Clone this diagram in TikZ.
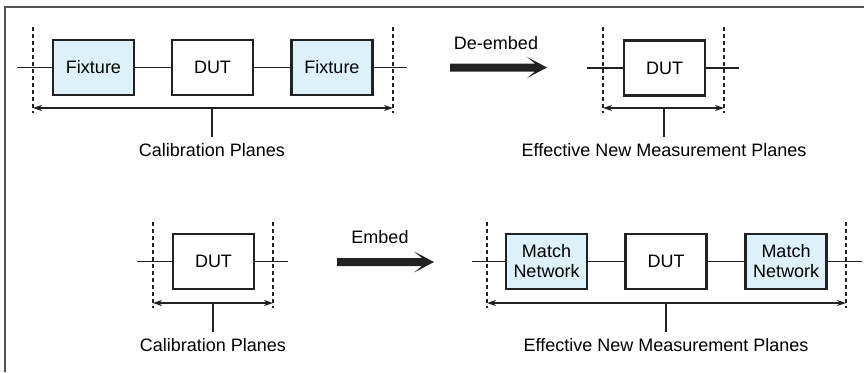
\documentclass[tikz,border=0pt]{standalone}
\usepackage{fontspec}
\setmainfont{Liberation Sans}
\usetikzlibrary{arrows.meta}
\definecolor{boxblue}{HTML}{DDF1F9}
\definecolor{ink}{HTML}{222222}
\definecolor{framegray}{HTML}{555555}
\begin{document}
\begin{tikzpicture}[x=1pt,y=-1pt,
  blk/.style={draw=ink,line width=2.4pt,minimum width=81pt,minimum height=55pt,inner sep=0pt,font=\fontsize{18}{20}\selectfont,align=center},
  fix/.style={blk,fill=boxblue},
  lead/.style={draw=ink,line width=1.1pt},
  plane/.style={draw=ink,line width=1.1pt,dash pattern=on 4pt off 3pt},
  span/.style={draw=ink,line width=1.1pt,{Stealth[length=9pt,width=6pt]}-{Stealth[length=9pt,width=6pt]}},
  lbl/.style={font=\fontsize{18}{20}\selectfont,inner sep=0pt},
  bigarrow/.style={fill=ink,draw=none}]
\useasboundingbox (0,0) rectangle (864,372);
\fill[white] (0,0) rectangle (864,372);
% frame
\draw[framegray,line width=2pt] (4.5,372) -- (4.5,6.5) -- (864,6.5);

% ---------- top left ----------
\node[fix] (f1) at (93.5,67.5) {Fixture};
\node[blk] (d1) at (212.5,67.5) {DUT};
\node[fix] (f2) at (332,67.5) {Fixture};
\coordinate (l1) at (17,67.5);
\coordinate (r1) at (407,67.5);
\draw[lead] (l1) -- (f1.west);
\draw[lead] (f1.east) -- (d1.west);
\draw[lead] (d1.east) -- (f2.west);
\draw[lead] (f2.east) -- (r1);
\coordinate (p1t) at (33,27); \coordinate (p1b) at (33,113);
\coordinate (p2t) at (393,27); \coordinate (p2b) at (393,113);
\draw[plane] (p1t) -- (p1b);
\draw[plane] (p2t) -- (p2b);
\coordinate (a1l) at (33,108); \coordinate (a1r) at (393,108);
\draw[span] (a1l) -- (a1r);
\coordinate (s1t) at (212,108);
\node[lbl] (c1) at (212,150) {Calibration Planes};
\draw[lead] (s1t) -- (212,137);

% ---------- de-embed arrow ----------
\node[lbl] (de) at (496,43) {De-embed};
\fill[bigarrow] (450,63.5) -- (535,63.5) -- (527,57) -- (547,67.5) -- (527,78) -- (535,71.5) -- (450,71.5) -- cycle;

% ---------- top right ----------
\node[blk] (d2) at (664.5,68) {DUT};
\coordinate (l2) at (587,68);
\coordinate (r2) at (739,68);
\draw[lead] (l2) -- (d2.west);
\draw[lead] (d2.east) -- (r2);
\coordinate (q1t) at (603,27); \coordinate (q1b) at (603,113);
\coordinate (q2t) at (724,27); \coordinate (q2b) at (724,113);
\draw[plane] (q1t) -- (q1b);
\draw[plane] (q2t) -- (q2b);
\coordinate (a2l) at (603,108); \coordinate (a2r) at (724,108);
\draw[span] (a2l) -- (a2r);
\coordinate (s2t) at (664,108);
\node[lbl] (c2) at (664,150) {Effective New Measurement Planes};
\draw[lead] (s2t) -- (664,137);

% ---------- bottom left ----------
\node[blk] (d3) at (213.5,261.5) {DUT};
\coordinate (l3) at (137,261.5);
\coordinate (r3) at (288,261.5);
\draw[lead] (l3) -- (d3.west);
\draw[lead] (d3.east) -- (r3);
\coordinate (u1t) at (153,222); \coordinate (u1b) at (153,308);
\coordinate (u2t) at (273,222); \coordinate (u2b) at (273,308);
\draw[plane] (u1t) -- (u1b);
\draw[plane] (u2t) -- (u2b);
\coordinate (a3l) at (153,303); \coordinate (a3r) at (273,303);
\draw[span] (a3l) -- (a3r);
\coordinate (s3t) at (213,303);
\node[lbl] (c3) at (213,345) {Calibration Planes};
\draw[lead] (s3t) -- (213,332);

% ---------- embed arrow ----------
\node[lbl] (em) at (380,237) {Embed};
\fill[bigarrow] (337,258) -- (422,258) -- (414,251.5) -- (434,262) -- (414,272.5) -- (422,266) -- (337,266) -- cycle;

% ---------- bottom right ----------
\node[fix] (m1) at (546.5,261.5) {Match\\Network};
\node[blk] (d4) at (666,261.5) {DUT};
\node[fix] (m2) at (786,261.5) {Match\\Network};
\coordinate (l4) at (472,261.5);
\coordinate (r4) at (862,261.5);
\draw[lead] (l4) -- (m1.west);
\draw[lead] (m1.east) -- (d4.west);
\draw[lead] (d4.east) -- (m2.west);
\draw[lead] (m2.east) -- (r4);
\coordinate (v1t) at (487,222); \coordinate (v1b) at (487,308);
\coordinate (v2t) at (846,222); \coordinate (v2b) at (846,308);
\draw[plane] (v1t) -- (v1b);
\draw[plane] (v2t) -- (v2b);
\coordinate (a4l) at (487,303); \coordinate (a4r) at (846,303);
\draw[span] (a4l) -- (a4r);
\coordinate (s4t) at (666,303);
\node[lbl] (c4) at (666,345) {Effective New Measurement Planes};
\draw[lead] (s4t) -- (666,332);
\end{tikzpicture}
\end{document}
